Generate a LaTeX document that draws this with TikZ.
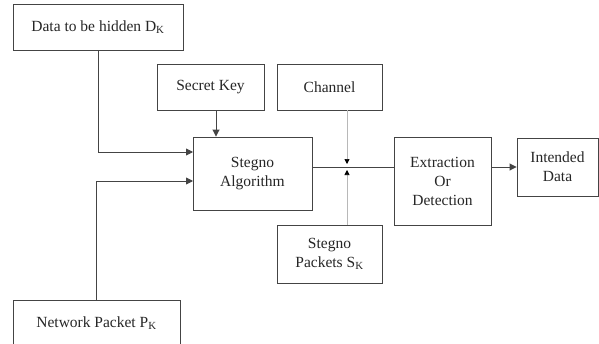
\documentclass[tikz,border=0pt]{standalone}
\usepackage{fontspec}
\setmainfont{Liberation Serif}
\usetikzlibrary{arrows.meta,calc}
\definecolor{edge}{HTML}{444444}
\definecolor{faint}{HTML}{B8B8B8}
\begin{document}
\begin{tikzpicture}[x=1pt,y=-1pt,
  blk/.style={draw=edge,line width=0.9pt,fill=white,inner sep=0pt,align=center,
    font=\fontsize{15.5}{19}\selectfont,text=black!85},
  wire/.style={draw=edge,line width=0.9pt},
  tip/.style={-{Triangle[length=7pt,width=7pt]}},
  thin/.style={draw=faint,line width=0.7pt,-{Triangle[length=5pt,width=5pt,fill=black,color=black]}}]
\useasboundingbox (0,0) rectangle (599,343);
\clip (0,0) rectangle (599,343);
\fill[white] (0,0) rectangle (599,343);

% blocks
\node[blk,minimum width=170pt,minimum height=46pt] (data) at (98,27) {Data to be hidden D\textsubscript{K}};
\node[blk,minimum width=167pt,minimum height=46pt] (net) at (96.5,323) {Network Packet P\textsubscript{K}};
\node[blk,minimum width=107pt,minimum height=46pt] (key) at (210.5,87) {Secret Key};
\node[blk,minimum width=105pt,minimum height=46pt] (chan) at (329.5,87) {Channel};
\node[blk,minimum width=119pt,minimum height=73pt] (alg) at (252.5,173.5) {Stegno\\Algorithm};
\node[blk,minimum width=105pt,minimum height=58pt] (pkt) at (329.5,254) {Stegno\\Packets S\textsubscript{K}};
\node[blk,minimum width=97pt,minimum height=88pt] (ext) at (442.5,181) {Extraction\\Or\\Detection};
\node[blk,minimum width=81pt,minimum height=58pt] (res) at (557.5,167) {Intended\\Data};

% junction points
\coordinate (in1) at (193,152);
\coordinate (in2) at (193,181);
\coordinate (keyout) at (216,110);
\coordinate (out) at (312,167);
\coordinate (jn) at (347,167);
\coordinate (jnup) at (347,164);
\coordinate (jndn) at (347,170);

% connectors
\draw[wire,tip] (data.south) |- (in1);
\draw[wire,tip] (net.north) |- (in2);
\draw[wire,tip] (keyout) -- (keyout |- alg.north);
\draw[wire] (out) -- (out -| ext.west);
\draw[wire,tip] (ext.east |- out) -- (res.west);
\draw[thin] (jn |- chan.south) -- (jnup);
\draw[thin] (jn |- pkt.north) -- (jndn);
\end{tikzpicture}
\end{document}
